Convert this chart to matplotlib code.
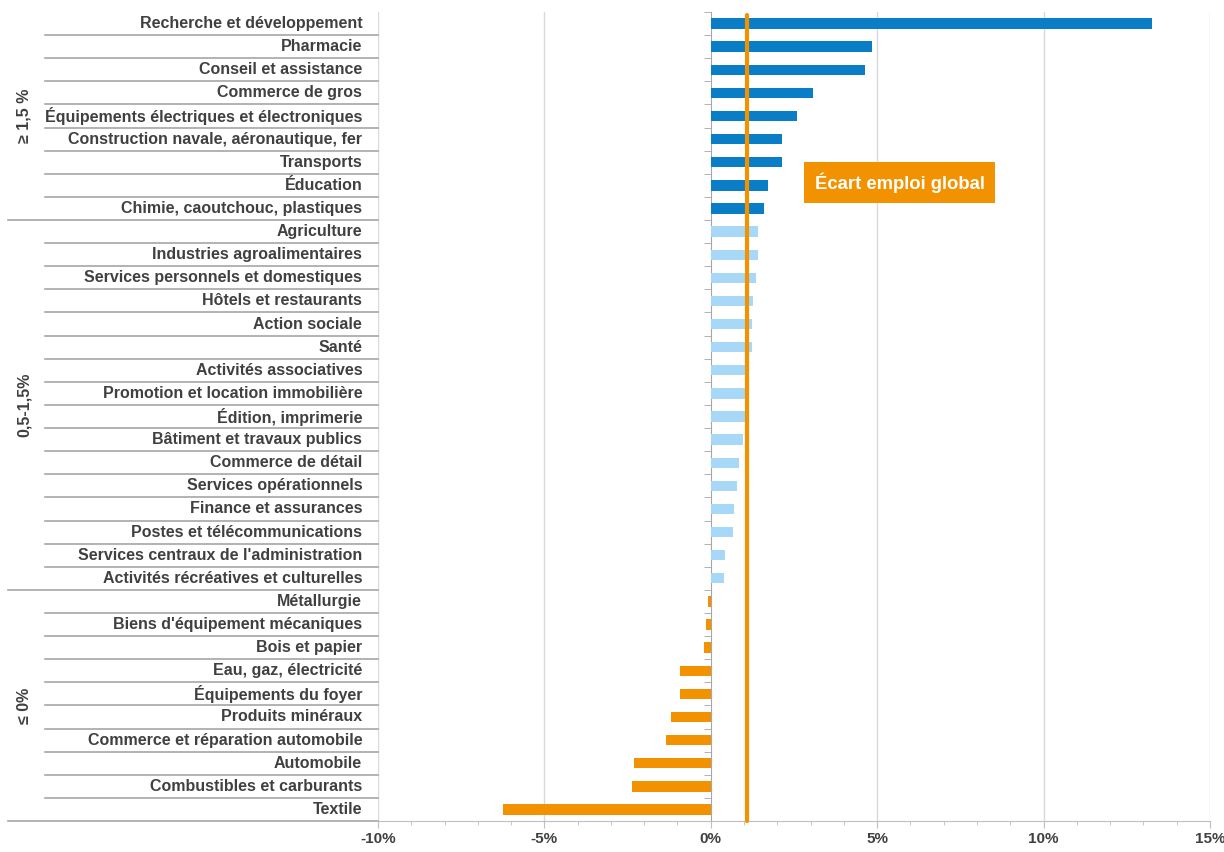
import matplotlib
matplotlib.use("Agg")
import matplotlib.pyplot as plt
import matplotlib.transforms as mtransforms
import numpy as np

# data (top to bottom)
sectors = [
    "Recherche et développement", "Pharmacie", "Conseil et assistance",
    "Commerce de gros", "Équipements électriques et électroniques",
    "Construction navale, aéronautique, fer", "Transports", "Éducation",
    "Chimie, caoutchouc, plastiques",
    "Agriculture", "Industries agroalimentaires",
    "Services personnels et domestiques", "Hôtels et restaurants",
    "Action sociale", "Santé", "Activités associatives",
    "Promotion et location immobilière", "Édition, imprimerie",
    "Bâtiment et travaux publics", "Commerce de détail",
    "Services opérationnels", "Finance et assurances",
    "Postes et télécommunications", "Services centraux de l'administration",
    "Activités récréatives et culturelles",
    "Métallurgie", "Biens d'équipement mécaniques", "Bois et papier",
    "Eau, gaz, électricité", "Équipements du foyer", "Produits minéraux",
    "Commerce et réparation automobile", "Automobile",
    "Combustibles et carburants", "Textile",
]
values = [
    13.26, 4.85, 4.63, 3.07, 2.60, 2.14, 2.15, 1.73, 1.60,
    1.43, 1.43, 1.37, 1.27, 1.24, 1.23, 1.08, 1.08, 1.06, 0.98,
    0.84, 0.79, 0.70, 0.66, 0.43, 0.41,
    -0.07, -0.13, -0.20, -0.93, -0.93, -1.19, -1.33, -2.30, -2.36, -6.25,
]
group_names = ["≥ 1,5 %", "0,5-1,5%", "≤ 0%"]
group_sizes = [9, 16, 10]
ecart_global = 1.1

group_colors = ["#0A7DC7", "#A8D8F8", "#F39200"]
orange = "#F39200"
grey_txt = "#404040"

fig = plt.figure(figsize=(12.24, 8.52), dpi=100)
ax = fig.add_axes([0.3088, 0.0364, 0.6797, 0.9495])

colors = []
for c, n in zip(group_colors, group_sizes):
    colors += [c] * n
y = np.arange(len(sectors))
ax.barh(y, values, height=0.45, color=colors, zorder=3)

ax.set_xlim(-10, 15)
ax.set_ylim(len(sectors) - 0.5, -0.5)

# grid
for gx in [-10, -5, 5, 10, 15]:
    ax.axvline(gx, color="#D9D9D9", lw=1, zorder=1)

# global gap line
ax.plot([ecart_global, ecart_global], [len(sectors) - 0.5, -0.35],
        color=orange, lw=3, zorder=4, solid_capstyle="round", clip_on=False)
ax.text(5.67, 6.88, "Écart emploi global", color="white", fontsize=13.3,
        fontweight="bold", family="Liberation Sans", ha="center", va="center",
        zorder=5,
        bbox=dict(boxstyle="square,pad=0.55", fc=orange, ec="none"))

# axes styling
for s in ["top", "right"]:
    ax.spines[s].set_visible(False)
ax.spines["left"].set_position(("data", 0))
ax.spines["left"].set_color("#A6A6A6")
ax.spines["bottom"].set_color("#BFBFBF")
ax.set_yticks([])
ax.set_yticks(np.arange(len(sectors) + 1) - 0.5, minor=True)
ax.tick_params(axis="y", which="minor", length=5, color="#A6A6A6",
               direction="out")
ax.set_xticks([-10, -5, 0, 5, 10, 15])
ax.set_xticklabels(["-10%", "-5%", "0%", "5%", "10%", "15%"])
ax.set_xticks(np.arange(-10, 16, 1), minor=True)
ax.tick_params(axis="x", which="major", length=5, color="#BFBFBF",
               labelsize=11, labelcolor=grey_txt, pad=3)
ax.tick_params(axis="x", which="minor", length=3, color="#BFBFBF")
for t in ax.get_xticklabels():
    t.set_fontweight("bold")
    t.set_family("Liberation Sans")

# category labels and separators
trans = mtransforms.blended_transform_factory(ax.transAxes, ax.transData)
for i, name in enumerate(sectors):
    ax.text(-0.019, i, name, transform=trans, ha="right", va="center",
            fontsize=11.5, fontweight="bold", color=grey_txt,
            family="Liberation Sans")

bounds = np.cumsum(group_sizes)
for i in range(1, len(sectors) + 1):
    yy = i - 0.5
    x0 = -0.445 if i in bounds else -0.40
    ax.plot([x0, 0], [yy, yy], transform=trans, color="#A6A6A6", lw=1.2,
            clip_on=False)

start = 0
for name, n in zip(group_names, group_sizes):
    mid = start + (n - 1) / 2
    ax.text(-0.425, mid, name, transform=trans, rotation=90, ha="center",
            va="center", fontsize=11.5, fontweight="bold", color=grey_txt,
            family="Liberation Sans")
    start += n

plt.savefig("out.png", dpi=100)
